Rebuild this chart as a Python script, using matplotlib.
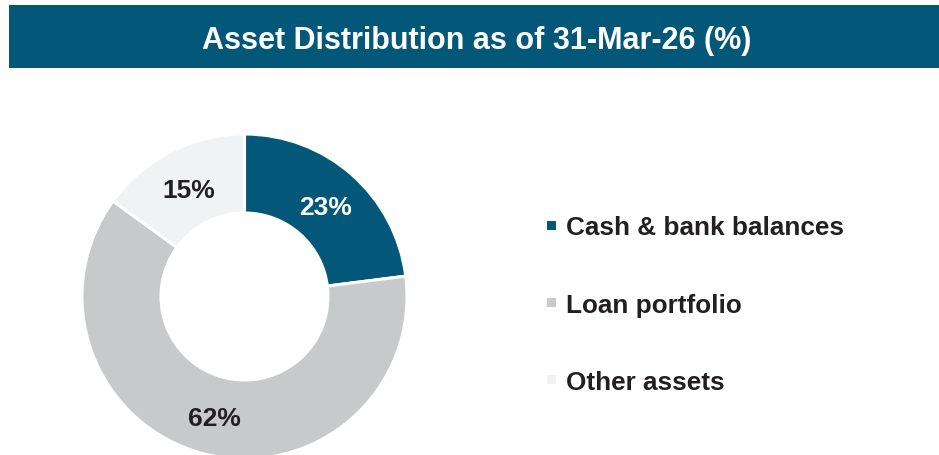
import matplotlib
matplotlib.use("Agg")
import matplotlib.pyplot as plt
from matplotlib.patches import Rectangle

plt.rcParams["font.family"] = ["Liberation Sans", "DejaVu Sans"]

# ── Data ───────────────────────────────────────────────────────────────────
title = "Asset Distribution as of 31-Mar-26 (%)"
categories = ["Cash & bank balances", "Loan portfolio", "Other assets"]
shares = [23, 62, 15]
colors = ["#03587A", "#C8C9CB", "#F1F2F4"]
label_colors = ["white", "#231F20", "#231F20"]

W, H = 939, 456
fig = plt.figure(figsize=(W / 100, H / 100), dpi=100)

# ── Title banner ───────────────────────────────────────────────────────────
fig.add_artist(Rectangle((9 / W, 1 - 69 / H), 1 - 9 / W, 63 / H,
                         transform=fig.transFigure, color="#03587A", lw=0))
fig.text(477 / W, 1 - 49 / H, title, color="white", fontsize=22,
         fontweight="bold", ha="center", va="baseline")

# ── Donut ──────────────────────────────────────────────────────────────────
cx, cy, R = 244.5, 456 - 297.5, 162.5
ax = fig.add_axes([(cx - R) / W, (cy - R) / H, 2 * R / W, 2 * R / H])
wedges, _, pcts = ax.pie(
    shares, colors=colors, startangle=90, counterclock=False, radius=1,
    autopct="%d%%", pctdistance=0.755,
    wedgeprops=dict(width=0.486, edgecolor="white", linewidth=2.2),
    textprops=dict(fontsize=19, fontweight="bold"),
)
for t, c in zip(pcts, label_colors):
    t.set_color(c)
    t.set_va("center_baseline")
ax.set_xlim(-1, 1); ax.set_ylim(-1, 1)
ax.set_aspect("equal")
ax.axis("off")

# ── Legend ─────────────────────────────────────────────────────────────────
row_y = [226, 303, 380]
for name, col, y in zip(categories, colors, row_y):
    fig.add_artist(Rectangle((547 / W, 1 - (y + 5) / H), 9 / W, 9 / H,
                             transform=fig.transFigure, color=col, lw=0))
    fig.text(566 / W, 1 - y / H, name, color="#231F20", fontsize=18.8,
             fontweight="bold", ha="left", va="center_baseline")

fig.savefig("out.png", dpi=100)
